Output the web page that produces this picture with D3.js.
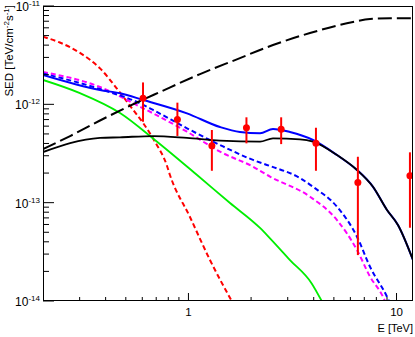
<!DOCTYPE html>
<html><head><meta charset="utf-8">
<script src="https://cdn.jsdelivr.net/npm/d3@7"></script>
<style>html,body{margin:0;padding:0;background:#fff;}svg{display:block;}text{font-family:"Liberation Sans",Arial,sans-serif;}</style>
</head><body>
<svg id="c" width="415" height="337"></svg>
<script>
// ---- data ----
const xTickMajor = [1, 10];
const xTickMinor = [0.3,0.4,0.5,0.6,0.7,0.8,0.9,2,3,4,5,6,7,8,9];
const yTickExp = [-11,-12,-13,-14];
const yTickMinor = [2,3,4,5,6,7,8,9];

// measured points: E, SED, lower, upper
const ptsE   = [0.605, 0.885, 1.296, 1.90, 2.79, 4.10, 6.52, 11.6];
const ptsSED = [1.15e-12, 7.03e-13, 3.79e-13, 5.78e-13, 5.57e-13, 4.01e-13, 1.60e-13, 1.88e-13];
const ptsLo  = [6.65e-13, 4.77e-13, 2.11e-13, 4.01e-13, 3.94e-13, 2.11e-13, 2.93e-14, 5.56e-14];
const ptsHi  = [1.67e-12, 1.04e-12, 5.48e-13, 7.38e-13, 7.38e-13, 5.78e-13, 2.93e-13, 3.25e-13];

const blackDashE = [0.2,0.270,0.397,0.572,0.730,1.137,1.674,2.549,3.838,6.177,7.457,9.30,12];
const blackDashV = [3.51e-13,4.76e-13,7.26e-13,1.056e-12,1.335e-12,2.03e-12,2.82e-12,4.01e-12,5.31e-12,6.87e-12,7.38e-12,7.5e-12,7.5e-12];

const blackE = [0.2,0.270,0.376,0.469,0.676,0.984,1.418,2.208,2.549,3.437,3.968,5.175,6.457,7.708,9.0,10.16,12];
const blackV = [3.27e-13,4.04e-13,4.55e-13,4.62e-13,4.76e-13,4.55e-13,4.27e-13,4.17e-13,4.51e-13,4.41e-13,4.17e-13,3.05e-13,2.15e-13,1.45e-13,8.42e-14,5.93e-14,2.61e-14];

const blueE = [0.2,0.376,0.469,0.607,0.984,1.418,1.769,2.208,2.549,3.076,3.968,5.175,6.457,7.708,9.0,10.16,12];
const blueV = [1.99e-12,1.40e-12,1.295e-12,1.107e-12,8.10e-13,5.88e-13,5.23e-13,5.08e-13,5.61e-13,5.23e-13,4.34e-13,3.05e-13,2.15e-13,1.45e-13,8.42e-14,5.93e-14,2.61e-14];

const blueDashE = [0.2,0.376,0.585,0.676,0.984,1.418,2.043,2.466,3.437,3.968,5.175,6.457,7.457,9.0,9.20];
const blueDashV = [2.06e-12,1.43e-12,1.024e-12,8.76e-13,5.71e-13,3.86e-13,2.72e-13,2.36e-13,1.78e-13,1.45e-13,9.10e-14,4.51e-14,2.23e-14,1.105e-14,1.0e-14];

const magE = [0.2,0.376,0.585,0.676,0.984,1.418,2.043,2.466,3.838,5.175,6.457,7.457,8.61,8.80];
const magV = [2.13e-12,1.50e-12,9.46e-13,8.10e-13,5.27e-13,3.30e-13,2.32e-13,1.84e-13,1.15e-13,6.66e-14,3.30e-14,1.77e-14,1.105e-14,1.0e-14];

const redE = [0.2,0.241,0.300,0.376,0.452,0.543,0.607,0.690,0.786,0.815,1.017,1.269,1.614];
const redV = [4.87e-12,4.25e-12,3.35e-12,2.32e-12,1.455e-12,8.76e-13,6.41e-13,4.17e-13,2.42e-13,1.91e-13,7.15e-14,2.61e-14,1.0e-14];

const greenE = [0.2,0.301,0.469,0.690,1.10,1.584,2.208,2.466,3.076,3.911,4.37];
const greenV = [1.77e-12,1.30e-12,8.16e-13,4.34e-13,1.91e-13,9.92e-14,5.53e-14,4.34e-14,2.61e-14,1.51e-14,1.0e-14];

// ---- chart ----
const svg = d3.select("#c");
const L = 43, R = 413, T = 6, B = 301;
const x = d3.scaleLog().domain([0.2, 12]).range([L, R]);
const y = d3.scaleLog().domain([1e-14, 1e-11]).range([B, T]);

svg.append("defs").append("clipPath").attr("id","clip")
  .append("rect").attr("x",L).attr("y",T).attr("width",R-L).attr("height",B-T);

const g = svg.append("g").attr("clip-path","url(#clip)");
const line = d3.line().x(d=>x(d[0])).y(d=>y(d[1])).curve(d3.curveMonotoneX);
function curve(E, V, color, dash, w){
  g.append("path").datum(E.map((e,i)=>[e,V[i]]))
   .attr("d", line).attr("fill","none").attr("stroke",color)
   .attr("stroke-width", w).attr("stroke-dasharray", dash||null);
}
curve(redE, redV, "#ff0000", "5,3", 2);
curve(greenE, greenV, "#00ee00", null, 1.8);
curve(magE, magV, "#ff00ff", "5,3", 2);
curve(blueDashE, blueDashV, "#0000ff", "5,3", 2);
curve(blueE, blueV, "#0000ff", null, 2);
curve(blackE, blackV, "#000000", null, 1.8);
curve(blackDashE, blackDashV, "#000000", "14,5", 2);

// data points
const pts = ptsE.map((e,i)=>({e, v:ptsSED[i], lo:ptsLo[i], hi:ptsHi[i]}));
const pg = svg.append("g").attr("clip-path","url(#clip)");
pg.selectAll("line.err").data(pts).join("line")
  .attr("x1",d=>x(d.e)).attr("x2",d=>x(d.e))
  .attr("y1",d=>y(d.lo)).attr("y2",d=>y(d.hi))
  .attr("stroke","#ff0000").attr("stroke-width",2);
pg.selectAll("circle").data(pts).join("circle")
  .attr("cx",d=>x(d.e)).attr("cy",d=>y(d.v)).attr("r",3.5)
  .attr("fill","#ff0000");

// frame
svg.append("rect").attr("x",L+0.5).attr("y",T+0.5).attr("width",R-L-1).attr("height",B-T-1)
  .attr("fill","none").attr("stroke","#000").attr("stroke-width",1);

// x ticks
const ax = svg.append("g");
xTickMajor.forEach(t=>{
  ax.append("line").attr("x1",x(t)).attr("x2",x(t)).attr("y1",B).attr("y2",B-8).attr("stroke","#000");
});
xTickMinor.forEach(t=>{
  ax.append("line").attr("x1",x(t)).attr("x2",x(t)).attr("y1",B).attr("y2",B-4).attr("stroke","#000");
});
xTickMajor.forEach(t=>{
  ax.append("text").attr("x",x(t)).attr("y",316).attr("text-anchor","middle")
    .attr("font-size",11.5).text(String(t));
});
svg.append("text").attr("x",413).attr("y",332).attr("text-anchor","end")
  .attr("font-size",11).text("E [TeV]");

// y ticks
yTickExp.forEach(p=>{
  const v = Math.pow(10,p);
  ax.append("line").attr("x1",L).attr("x2",L+11).attr("y1",y(v)).attr("y2",y(v)).attr("stroke","#000");
  if (p < -11) {
    yTickMinor.forEach(m=>{
      const mv = m*v;
      ax.append("line").attr("x1",L).attr("x2",L+6).attr("y1",y(mv)).attr("y2",y(mv)).attr("stroke","#000");
    });
  }
  const t = ax.append("text").attr("x",40).attr("y",y(v)+5).attr("text-anchor","end").attr("font-size",12);
  t.append("tspan").text("10");
  t.append("tspan").attr("font-size",8).attr("dy",-5).text(String(p));
});

// y label
const yl = svg.append("text").attr("transform","translate(13,5) rotate(-90)")
  .attr("text-anchor","end").attr("font-size",11.5);
yl.append("tspan").text("SED [TeV/cm");
yl.append("tspan").attr("font-size",8).attr("dy",-4).text("-2");
yl.append("tspan").attr("dy",4).text("s");
yl.append("tspan").attr("font-size",8).attr("dy",-4).text("-1");
yl.append("tspan").attr("dy",4).text("]");
</script>
</body></html>
